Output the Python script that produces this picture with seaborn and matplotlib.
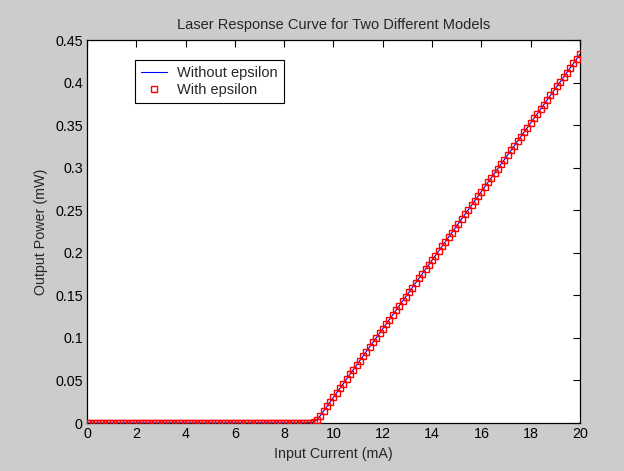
import matplotlib
matplotlib.use("Agg")
import matplotlib.pyplot as plt
import seaborn as sns
import pandas as pd

title = "Laser Response Curve for Two Different Models"
x_label = "Input Current (mA)"
y_label = "Output Power (mW)"
series_names = ["Without epsilon", "With epsilon"]
x_ticks = [0, 2, 4, 6, 8, 10, 12, 14, 16, 18, 20]
y_ticks = [0, 0.05, 0.1, 0.15, 0.2, 0.25, 0.3, 0.35, 0.4, 0.45]
y_tick_labels = ["0", "0.05", "0.1", "0.15", "0.2", "0.25", "0.3", "0.35", "0.4", "0.45"]

current = [
    0.0, 0.1333, 0.2667, 0.4, 0.5333, 0.6667, 0.8, 0.9333, 1.0667, 1.2, 1.3333, 1.4667, 1.6, 1.7333, 1.8667,
    2.0, 2.1333, 2.2667, 2.4, 2.5333, 2.6667, 2.8, 2.9333, 3.0667, 3.2, 3.3333, 3.4667, 3.6, 3.7333, 3.8667,
    4.0, 4.1333, 4.2667, 4.4, 4.5333, 4.6667, 4.8, 4.9333, 5.0667, 5.2, 5.3333, 5.4667, 5.6, 5.7333, 5.8667,
    6.0, 6.1333, 6.2667, 6.4, 6.5333, 6.6667, 6.8, 6.9333, 7.0667, 7.2, 7.3333, 7.4667, 7.6, 7.7333, 7.8667,
    8.0, 8.1333, 8.2667, 8.4, 8.5333, 8.6667, 8.8, 8.9333, 9.0667, 9.2, 9.3333, 9.4667, 9.6, 9.7333, 9.8667,
    10.0, 10.1333, 10.2667, 10.4, 10.5333, 10.6667, 10.8, 10.9333, 11.0667, 11.2, 11.3333, 11.4667, 11.6, 11.7333, 11.8667,
    12.0, 12.1333, 12.2667, 12.4, 12.5333, 12.6667, 12.8, 12.9333, 13.0667, 13.2, 13.3333, 13.4667, 13.6, 13.7333, 13.8667,
    14.0, 14.1333, 14.2667, 14.4, 14.5333, 14.6667, 14.8, 14.9333, 15.0667, 15.2, 15.3333, 15.4667, 15.6, 15.7333, 15.8667,
    16.0, 16.1333, 16.2667, 16.4, 16.5333, 16.6667, 16.8, 16.9333, 17.0667, 17.2, 17.3333, 17.4667, 17.6, 17.7333, 17.8667,
    18.0, 18.1333, 18.2667, 18.4, 18.5333, 18.6667, 18.8, 18.9333, 19.0667, 19.2, 19.3333, 19.4667, 19.6, 19.7333, 19.8667,
    20.0,
]

power_without_epsilon = [
    0.0, 0.0, 0.0, 0.0, 0.0, 0.0, 0.0, 0.0, 0.0, 0.0, 0.0, 0.0, 0.0, 0.0, 0.0,
    0.0, 0.0, 0.0, 0.0, 0.0, 0.0, 0.0, 0.0, 0.0, 0.0, 0.0, 0.0, 0.0, 0.0, 0.0,
    0.0, 0.0, 0.0, 0.0, 0.0, 0.0, 0.0, 0.0, 0.0, 0.0, 0.0, 0.0, 0.0, 0.0, 0.0,
    0.0, 0.0, 0.0, 0.0, 0.0, 0.0, 0.0, 0.0, 0.0, 0.0, 0.0, 0.0, 0.0, 0.0, 0.0,
    0.0, 0.0, 0.0, 0.0, 0.0, 0.0, 0.0001, 0.0002, 0.0004, 0.0008, 0.0040, 0.0088, 0.0141, 0.0195, 0.0249,
    0.0302, 0.0356, 0.0410, 0.0463, 0.0517, 0.0571, 0.0625, 0.0678, 0.0732, 0.0786, 0.0840, 0.0893, 0.0947, 0.1001, 0.1054,
    0.1108, 0.1162, 0.1216, 0.1269, 0.1323, 0.1377, 0.1431, 0.1484, 0.1538, 0.1592, 0.1646, 0.1699, 0.1753, 0.1807, 0.1860,
    0.1914, 0.1968, 0.2022, 0.2075, 0.2129, 0.2183, 0.2237, 0.2290, 0.2344, 0.2398, 0.2452, 0.2505, 0.2559, 0.2613, 0.2666,
    0.2720, 0.2774, 0.2828, 0.2881, 0.2935, 0.2989, 0.3043, 0.3096, 0.3150, 0.3204, 0.3258, 0.3311, 0.3365, 0.3419, 0.3472,
    0.3526, 0.3580, 0.3634, 0.3687, 0.3741, 0.3795, 0.3849, 0.3902, 0.3956, 0.4010, 0.4064, 0.4117, 0.4171, 0.4225, 0.4278,
    0.4332,
]

power_with_epsilon = [
    0.0, 0.0, 0.0, 0.0, 0.0, 0.0, 0.0, 0.0, 0.0, 0.0, 0.0, 0.0, 0.0, 0.0, 0.0,
    0.0, 0.0, 0.0, 0.0, 0.0, 0.0, 0.0, 0.0, 0.0, 0.0, 0.0, 0.0, 0.0, 0.0, 0.0,
    0.0, 0.0, 0.0, 0.0, 0.0, 0.0, 0.0, 0.0, 0.0, 0.0, 0.0, 0.0, 0.0, 0.0, 0.0,
    0.0, 0.0, 0.0, 0.0, 0.0, 0.0, 0.0, 0.0, 0.0, 0.0, 0.0, 0.0, 0.0, 0.0, 0.0,
    0.0, 0.0, 0.0, 0.0, 0.0, 0.0, 0.0001, 0.0002, 0.0004, 0.0008, 0.0040, 0.0088, 0.0141, 0.0195, 0.0249,
    0.0302, 0.0356, 0.0410, 0.0463, 0.0517, 0.0571, 0.0625, 0.0678, 0.0732, 0.0786, 0.0840, 0.0893, 0.0947, 0.1001, 0.1054,
    0.1108, 0.1162, 0.1216, 0.1269, 0.1323, 0.1377, 0.1431, 0.1484, 0.1538, 0.1592, 0.1646, 0.1699, 0.1753, 0.1807, 0.1860,
    0.1914, 0.1968, 0.2022, 0.2075, 0.2129, 0.2183, 0.2237, 0.2290, 0.2344, 0.2398, 0.2452, 0.2505, 0.2559, 0.2613, 0.2666,
    0.2720, 0.2774, 0.2828, 0.2881, 0.2935, 0.2989, 0.3043, 0.3096, 0.3150, 0.3204, 0.3258, 0.3311, 0.3365, 0.3419, 0.3472,
    0.3526, 0.3580, 0.3634, 0.3687, 0.3741, 0.3795, 0.3849, 0.3902, 0.3956, 0.4010, 0.4064, 0.4117, 0.4171, 0.4225, 0.4278,
    0.4332,
]

df = pd.DataFrame({"current": current,
                   "without": power_without_epsilon,
                   "with": power_with_epsilon})

sns.set_style("white")
plt.rcParams["font.family"] = ["Liberation Sans", "DejaVu Sans"]

fig = plt.figure(figsize=(6.24, 4.71), dpi=100, facecolor="#cccccc")
ax = fig.add_axes([0.1394, 0.1019, 0.7901, 0.8131])
ax.set_facecolor("white")

sns.lineplot(data=df, x="current", y="without", ax=ax, color="#0000ff",
             linewidth=0.8, label=series_names[0], zorder=2)
sns.lineplot(data=df, x="current", y="with", ax=ax, color="#ff0000",
             linestyle="", marker="s", markersize=4.4, markerfacecolor="none",
             markeredgecolor="#ff0000", markeredgewidth=1.0,
             label=series_names[1], zorder=3)

ax.set_xlim(0, 20)
ax.set_ylim(0, 0.45)
ax.set_xticks(x_ticks)
ax.set_xticklabels([str(t) for t in x_ticks])
ax.set_yticks(y_ticks)
ax.set_yticklabels(y_tick_labels)
ax.tick_params(axis="both", direction="in", length=5, width=0.8, colors="black",
               labelsize=10.3, top=True, right=True, pad=3)
for s in ax.spines.values():
    s.set_visible(True)
    s.set_color("black")
    s.set_linewidth(0.9)

ax.set_title(title, fontsize=10.5, pad=8)
ax.set_xlabel(x_label, fontsize=10.3, labelpad=4)
ax.set_ylabel(y_label, fontsize=10.3, labelpad=5)

leg = ax.legend(loc="upper left", bbox_to_anchor=(0.0974, 0.948), fontsize=10.5,
                frameon=True, fancybox=False, framealpha=1, edgecolor="black",
                borderpad=0.4, handlelength=1.8, handletextpad=0.7, labelspacing=0.2,
                borderaxespad=0, numpoints=1)
leg.get_frame().set_linewidth(0.8)

fig.savefig("out.png", dpi=100, facecolor=fig.get_facecolor())
